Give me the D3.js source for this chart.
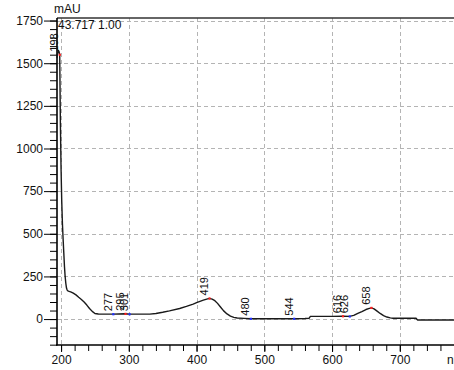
<!DOCTYPE html>
<html><head><meta charset="utf-8">
<script src="https://cdn.jsdelivr.net/npm/d3@7/dist/d3.min.js"></script>
<style>
html,body{margin:0;padding:0;background:#fff;overflow:hidden;}
svg{display:block;font-family:"Liberation Sans",Arial,sans-serif;}
</style></head>
<body>
<svg id="chart" width="454" height="370"></svg>
<script>
// ---- data ----
const wavelengths = [194,195,196,197,198,199,200,201,202,203,204,205,206,207,208,209,210,212,215,218,222,226,230,234,238,242,246,250,255,260,270,277,285,295,301,310,320,331,340,350,360,375,385,395,400,405,410,415,419,423,427,431,435,440,445,450,455,460,470,480,500,520,544,560,566,568,580,600,616,626,632,638,644,650,655,658,662,666,671,676,681,686,690,700,710,720,724,726,740,760,780];
const absorbance  = [1530,1560,1575,1568,1550,1150,880,690,560,470,390,310,250,210,182,170,165,162,158,152,142,128,115,100,82,62,45,33,30,29,29,29,30,31,29,29,29,29,33,40,48,62,74,88,96,104,111,117,121,117,108,92,72,48,30,17,10,6,4,2,2,2,2,3,4,16,16,16,17,16,22,33,44,56,63,66,60,48,33,20,12,7,5,5,5,5,5,-5,-5,-5,-5];
const peakWl   = [198,277,295,301,419,480,544,616,626,658];
const peakType = ["max","min","max","min","max","min","min","max","min","max"];
const xMajorTicks = [200,300,400,500,600,700];
const yMajorTicks = [0,250,500,750,1000,1250,1500,1750];
const yUnit = "mAU";
const xUnit = "nm";
const headerText = "43.717 1.00";

// ---- scales ----
const svg = d3.select("#chart");
const x = d3.scaleLinear().domain([194,780]).range([57,454]);
const y = d3.scaleLinear().domain([-152,1765]).range([345,18]);

// grid
const grid = svg.append("g").attr("stroke","#b4b4b4").attr("stroke-dasharray","4,3").attr("stroke-width",1);
grid.selectAll("line.h").data(yMajorTicks).join("line")
  .attr("x1",57).attr("x2",454)
  .attr("y1",d=>Math.round(y(d))+0.5).attr("y2",d=>Math.round(y(d))+0.5);
grid.selectAll("line.v").data(xMajorTicks).join("line")
  .attr("y1",18).attr("y2",345)
  .attr("x1",d=>Math.round(x(d))+0.5).attr("x2",d=>Math.round(x(d))+0.5);

// top border
svg.append("line").attr("x1",57).attr("x2",454).attr("y1",18).attr("y2",18)
  .attr("stroke","#333").attr("stroke-width",1.5);

// axes
const yAxisMinor = d3.axisLeft(y).tickValues(d3.range(-150,1751,50)).tickSize(7).tickFormat("");
svg.append("g").attr("transform","translate(57,0)").call(yAxisMinor)
  .call(g=>{g.select(".domain").remove(); g.selectAll("line").attr("stroke","#000");});
const yAxisMajor = d3.axisLeft(y).tickValues(yMajorTicks).tickSize(13).tickPadding(1).tickFormat(d3.format("d"));
svg.append("g").attr("transform","translate(57,0)").call(yAxisMajor)
  .call(g=>{g.select(".domain").remove(); g.selectAll("line").attr("stroke","#000");
    g.selectAll("text").attr("font-size",12).attr("fill","#111").attr("font-family","Liberation Sans, Arial, sans-serif");});

const xAxisMinor = d3.axisBottom(x).tickValues(d3.range(200,781,20)).tickSize(6).tickFormat("");
svg.append("g").attr("transform","translate(0,345)").call(xAxisMinor)
  .call(g=>{g.select(".domain").remove(); g.selectAll("line").attr("stroke","#000");});
const xAxisMajor = d3.axisBottom(x).tickValues(xMajorTicks).tickSize(7).tickPadding(3).tickFormat(d3.format("d"));
svg.append("g").attr("transform","translate(0,345)").call(xAxisMajor)
  .call(g=>{g.select(".domain").remove(); g.selectAll("line").attr("stroke","#000");
    g.selectAll("text").attr("font-size",12).attr("fill","#111").attr("font-family","Liberation Sans, Arial, sans-serif");});

// axis lines
svg.append("line").attr("x1",57).attr("x2",57).attr("y1",18).attr("y2",345.5).attr("stroke","#000").attr("stroke-width",1.6);
svg.append("line").attr("x1",56).attr("x2",454).attr("y1",345).attr("y2",345).attr("stroke","#000").attr("stroke-width",1.6);

// unit labels
svg.append("text").attr("x",54).attr("y",13).attr("font-size",12).attr("fill","#111").text(yUnit);
svg.append("text").attr("x",447).attr("y",364).attr("font-size",12).attr("fill","#111").text(xUnit);
svg.append("text").attr("x",58).attr("y",29).attr("font-size",12).attr("fill","#111").text(headerText);

// curve
const pts = wavelengths.map((w,i)=>[w,absorbance[i]]);
const line = d3.line().x(d=>x(d[0])).y(d=>y(d[1]));
svg.append("path").datum(pts).attr("d",line).attr("fill","none")
  .attr("stroke","#1a1a1a").attr("stroke-width",1.4).attr("stroke-linejoin","round");

// peak markers & labels
const peaks = peakWl.map((w,i)=>({w, v:absorbance[wavelengths.indexOf(w)], t:peakType[i]}));
svg.selectAll("rect.pk").data(peaks).join("rect")
  .attr("x",d=>x(d.w)-1).attr("y",d=>y(d.v)-1).attr("width",2.2).attr("height",2.2)
  .attr("fill",d=>d.t==="max"?"#ff2020":"#2030ff");
svg.selectAll("text.pk").data(peaks).join("text")
  .attr("transform",d=>`translate(${x(d.w)-1.5},${y(d.v)-3}) rotate(-90)`)
  .attr("font-size",11).attr("fill","#111").text(d=>d.w);
</script>
</body></html>
